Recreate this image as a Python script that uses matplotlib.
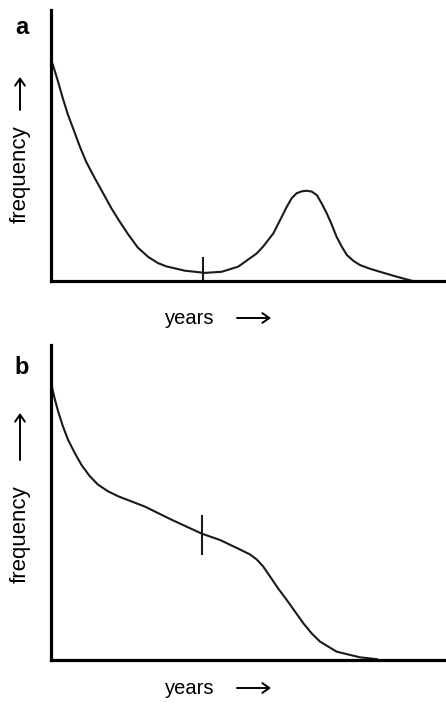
import matplotlib
matplotlib.use("Agg")
import matplotlib.pyplot as plt
from matplotlib.patches import FancyArrowPatch

plt.rcParams['font.family'] = ['Liberation Sans', 'DejaVu Sans']

# panel a: bimodal distribution (years vs frequency, arbitrary units 0-100)
years_a = [0.0, 0.5, 1.8, 3.0, 4.3, 5.6, 7.3, 8.9, 11.1, 13.2, 15.3, 17.4, 19.5,
           22.0, 24.6, 27.1, 29.2, 33.9, 39.0, 43.2, 47.4, 52.1, 53.7, 56.3, 58.0,
           59.7, 60.9, 62.2, 63.5, 64.7, 66.0, 67.3, 68.5, 69.8, 71.1, 72.3, 73.6,
           74.9, 76.5, 78.2, 80.8, 83.3, 87.5, 91.3]
freq_a = [81.2, 79.7, 73.5, 67.4, 61.3, 56.3, 49.6, 44.0, 37.9, 32.4, 26.8, 21.9, 17.3,
          12.3, 8.9, 6.6, 5.4, 3.8, 3.0, 3.4, 5.3, 10.2, 12.7, 17.6, 22.5,
          27.4, 30.5, 32.4, 33.1, 33.3, 33.0, 31.7, 28.7, 25.0, 20.7, 16.3, 12.7,
          9.6, 7.5, 5.9, 4.5, 3.4, 1.6, 0.1]
mark_a = 38.5
mark_a_span = [0.0, 8.5]

# panel b: shouldered decline
years_b = [0.0, 0.9, 1.8, 3.0, 4.3, 6.0, 7.7, 9.8, 11.9, 14.4, 17.0, 20.3, 23.8,
           30.6, 38.2, 42.8, 47.8, 50.4, 52.1, 53.7, 55.4, 57.5, 59.7, 61.8, 63.9,
           66.0, 68.1, 72.3, 78.2, 82.5]
freq_b = [87.9, 83.1, 78.9, 74.2, 69.9, 65.7, 61.9, 58.3, 55.6, 53.5, 51.9, 50.3, 48.6,
          44.4, 40.0, 38.0, 35.0, 33.4, 31.8, 29.6, 26.5, 22.6, 18.9, 15.2, 11.5,
          8.3, 5.7, 2.5, 0.7, 0.1]
mark_b = 38.2
mark_b_span = [33.5, 45.7]

W, H = 446, 704
fig = plt.figure(figsize=(W / 100, H / 100), dpi=100)


def px_axes(left, top, right, bottom):
    return fig.add_axes([left / W, 1 - bottom / H, (right - left) / W, (bottom - top) / H])


def style(ax):
    ax.set_xlim(0, 100)
    ax.set_ylim(0, 100)
    for s in ['top', 'right']:
        ax.spines[s].set_visible(False)
    for s in ['left', 'bottom']:
        ax.spines[s].set_linewidth(2.3)
        ax.spines[s].set_color('black')
    ax.set_xticks([])
    ax.set_yticks([])
    ax.patch.set_alpha(0)


def fig_arrow(x0, y0, x1, y1):
    fig.add_artist(FancyArrowPatch(
        (x0 / W, 1 - y0 / H), (x1 / W, 1 - y1 / H), transform=fig.transFigure,
        arrowstyle='->,head_length=5,head_width=3.5', lw=1.4, color='black',
        shrinkA=0, shrinkB=0))


def labels(letter, letter_y, freq_y, arr_tail, arr_head, years_y):
    fig.text(22 / W, 1 - letter_y / H, letter, fontsize=17, fontweight='bold',
             ha='center', va='center')
    fig.text(20 / W, 1 - freq_y / H, 'frequency', fontsize=16, rotation=90,
             ha='center', va='center')
    fig_arrow(20, arr_tail, 20, arr_head)
    fig.text(190 / W, 1 - years_y / H, 'years', fontsize=14.5, ha='center', va='center')
    fig_arrow(237, years_y, 271, years_y)


ax_a = px_axes(51, 10, 446, 281)
style(ax_a)
ax_a.plot(years_a, freq_a, color='#1a1a1a', lw=1.5, solid_joinstyle='round')
ax_a.plot([mark_a, mark_a], mark_a_span, color='#1a1a1a', lw=1.5)
labels('a', 28, 174, 110, 77, 318)

ax_b = px_axes(51, 345, 446, 659.5)
style(ax_b)
ax_b.plot(years_b, freq_b, color='#1a1a1a', lw=1.5, solid_joinstyle='round')
ax_b.plot([mark_b, mark_b], mark_b_span, color='#1a1a1a', lw=1.5)
labels('b', 368, 534, 460, 413, 688)

fig.savefig('out.png', dpi=100)
